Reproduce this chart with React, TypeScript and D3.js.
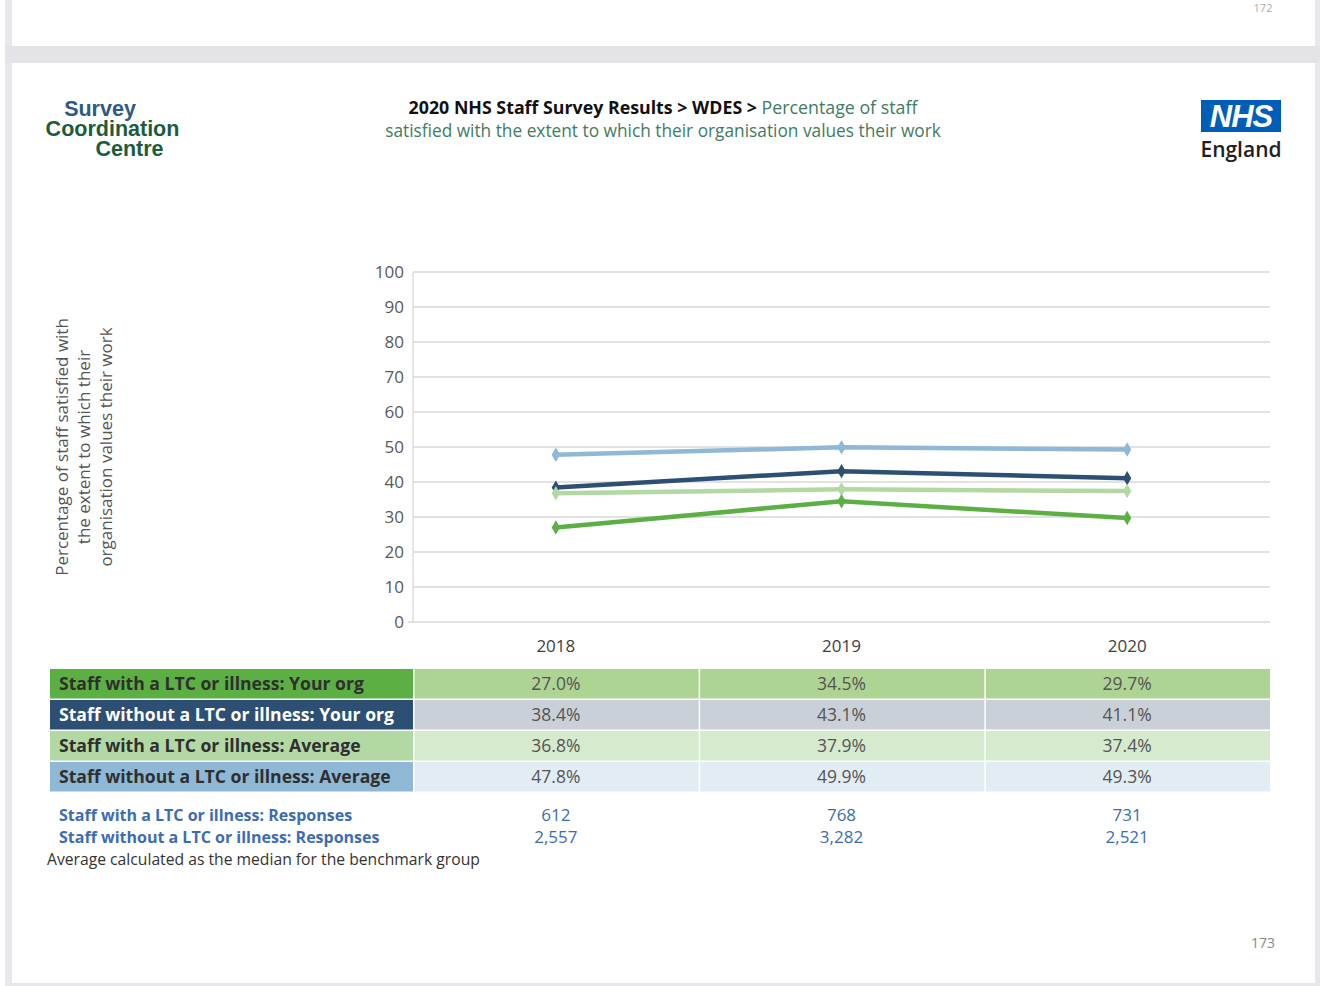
import React from "react";
import * as d3 from "d3";

const years = ["2018", "2019", "2020"];
const seriesNames = [
  "Staff with a LTC or illness: Your org",
  "Staff without a LTC or illness: Your org",
  "Staff with a LTC or illness: Average",
  "Staff without a LTC or illness: Average",
];
const withLtcOrg = [27.0, 34.5, 29.7];
const withoutLtcOrg = [38.4, 43.1, 41.1];
const withLtcAvg = [36.8, 37.9, 37.4];
const withoutLtcAvg = [47.8, 49.9, 49.3];
const responseLabels = [
  "Staff with a LTC or illness: Responses",
  "Staff without a LTC or illness: Responses",
];
const withLtcResponses = [612, 768, 731];
const withoutLtcResponses = [2557, 3282, 2521];
const yTicks = [0, 10, 20, 30, 40, 50, 60, 70, 80, 90, 100];

const seriesValues = [withLtcOrg, withoutLtcOrg, withLtcAvg, withoutLtcAvg];
const lineColors = ["#5cb043", "#2c4f73", "#b2d9a4", "#8fb8d6"];
const labelFill = ["#5cb043", "#2c4f73", "#b2d9a4", "#8fb8d6"];
const labelText = ["#2f2f2f", "#ffffff", "#2f2f2f", "#2f2f2f"];
const cellFill = ["#aed494", "#c9d0d8", "#d6eace", "#e2edf3"];
const drawOrder = [3, 1, 2, 0];

const FONT = "'Open Sans', 'Noto Sans', sans-serif";

export default function App() {
  const W = 1320;
  const H = 986;
  const plotL = 413;
  const plotR = 1270;
  const plotT = 272;
  const plotB = 622;

  const x = d3.scaleBand<string>().domain(years).range([plotL, plotR]).padding(0);
  const cx = (yr: string) => (x(yr) as number) + x.bandwidth() / 2;
  const y = d3.scaleLinear().domain([0, 100]).range([plotB, plotT]);

  const line = d3
    .line<number>()
    .x((_, i) => cx(years[i]))
    .y((v) => y(v));
  const diamond = d3.symbol().type(d3.symbolDiamond).size(60);

  const rowTop = 669;
  const rowH = 31;
  const labelX0 = 50;
  const fmtPct = (v: number) => v.toFixed(1) + "%";
  const fmtN = d3.format(",");

  return (
    <svg
      width={W}
      height={H}
      style={{ position: "absolute", left: 0, top: 0, background: "#ffffff" }}
      fontFamily={FONT}
    >
      {/* page frames */}
      <rect x={0} y={0} width={W} height={H} fill="#ffffff" />
      <rect x={5} y={0} width={7} height={H} fill="#e8e8ec" />
      <rect x={1315} y={0} width={5} height={H} fill="#e8e8ec" />
      <rect x={5} y={46} width={1315} height={17} fill="#e4e4e8" />
      <rect x={12} y={0} width={1303} height={46} fill="#ffffff" />
      <rect x={12} y={63} width={1303} height={920} fill="#ffffff" />
      <rect x={5} y={983} width={1315} height={3} fill="#e8e8ec" />
      <text x={1263} y={12} textAnchor="middle" fontSize={11} fill="#aaa">172</text>

      {/* logo left */}
      <g fontFamily="'Liberation Sans', Arial, sans-serif" fontWeight="bold" fontSize={21.5}>
        <text x={100} y={116} textAnchor="middle" fill="#2e5a87">Survey</text>
        <text x={112.5} y={136} textAnchor="middle" fill="#1c5c3d">Coordination</text>
        <text x={129.5} y={156} textAnchor="middle" fill="#1c5c3d">Centre</text>
      </g>

      {/* title */}
      <text x={663} y={114} textAnchor="middle" fontSize={17.8}>
        <tspan fontWeight="bold" fill="#111">2020 NHS Staff Survey Results &gt; WDES &gt; </tspan>
        <tspan fill="#3f7c62">Percentage of staff</tspan>
      </text>
      <text x={663} y={137} textAnchor="middle" fontSize={17.3} fill="#3f7c62">
        satisfied with the extent to which their organisation values their work
      </text>

      {/* NHS logo */}
      <rect x={1201} y={100} width={80} height={32} fill="#005eb8" />
      <text
        x={1241}
        y={127}
        textAnchor="middle"
        fontFamily="'Liberation Sans', Arial, sans-serif"
        fontWeight="bold"
        fontStyle="italic"
        fontSize={31}
        fill="#ffffff"
        letterSpacing={-1}
      >
        NHS
      </text>
      <text x={1241} y={157} textAnchor="middle" fontSize={21} fontWeight={600} fill="#231f20">
        England
      </text>

      {/* y-axis title */}
      <g transform="translate(85,447) rotate(-90)" fontSize={17} fill="#555" textAnchor="middle">
        <text x={0} y={-17}>Percentage of staff satisfied with</text>
        <text x={0} y={5}>the extent to which their</text>
        <text x={0} y={27}>organisation values their work</text>
      </g>

      {/* grid */}
      {yTicks.map((t) => (
        <g key={t}>
          <line
            x1={t === 0 ? 408 : plotL}
            x2={plotR}
            y1={y(t)}
            y2={y(t)}
            stroke="#d9d9d9"
            strokeWidth={1.3}
          />
          <text x={404} y={y(t) + 6} textAnchor="end" fontSize={17} fill="#595959">
            {t}
          </text>
        </g>
      ))}
      <line x1={plotL} x2={plotL} y1={plotT} y2={plotB} stroke="#d9d9d9" strokeWidth={1.3} />
      {years.map((yr) => (
        <text key={yr} x={cx(yr)} y={652} textAnchor="middle" fontSize={17} fill="#404040">
          {yr}
        </text>
      ))}

      {/* lines */}
      {drawOrder.map((si) => (
        <g key={si}>
          <path d={line(seriesValues[si]) || ""} fill="none" stroke={lineColors[si]} strokeWidth={4.5} />
          {seriesValues[si].map((v, i) => (
            <path
              key={i}
              d={diamond() || ""}
              transform={`translate(${cx(years[i])},${y(v)})`}
              fill={lineColors[si]}
            />
          ))}
        </g>
      ))}

      {/* table */}
      {seriesNames.map((name, ri) => {
        const top = rowTop + ri * rowH;
        return (
          <g key={name}>
            <rect x={labelX0} y={top} width={plotL - labelX0} height={rowH - 1.5} fill={labelFill[ri]} />
            <text x={59} y={top + 21} fontSize={17.6} fontWeight="bold" fill={labelText[ri]}>
              {name}
            </text>
            {years.map((yr, ci) => (
              <g key={yr}>
                <rect
                  x={(x(yr) as number) + 1.5}
                  y={top}
                  width={x.bandwidth() - 1.5}
                  height={rowH - 1.5}
                  fill={cellFill[ri]}
                />
                <text x={cx(yr)} y={top + 21} textAnchor="middle" fontSize={17.5} fill="#555">
                  {fmtPct(seriesValues[ri][ci])}
                </text>
              </g>
            ))}
          </g>
        );
      })}

      {/* responses */}
      {[withLtcResponses, withoutLtcResponses].map((arr, ri) => (
        <g key={ri}>
          <text x={59} y={821 + ri * 22} fontSize={16} fontWeight="bold" fill="#3d6db1">
            {responseLabels[ri]}
          </text>
          {years.map((yr, ci) => (
            <text key={yr} x={cx(yr)} y={821 + ri * 22} textAnchor="middle" fontSize={17} fill="#3d6db1">
              {fmtN(arr[ci])}
            </text>
          ))}
        </g>
      ))}
      <text x={47} y={865} fontSize={15.7} fill="#333">
        Average calculated as the median for the benchmark group
      </text>

      <text x={1263} y={948} textAnchor="middle" fontSize={14} fill="#888">173</text>
    </svg>
  );
}
